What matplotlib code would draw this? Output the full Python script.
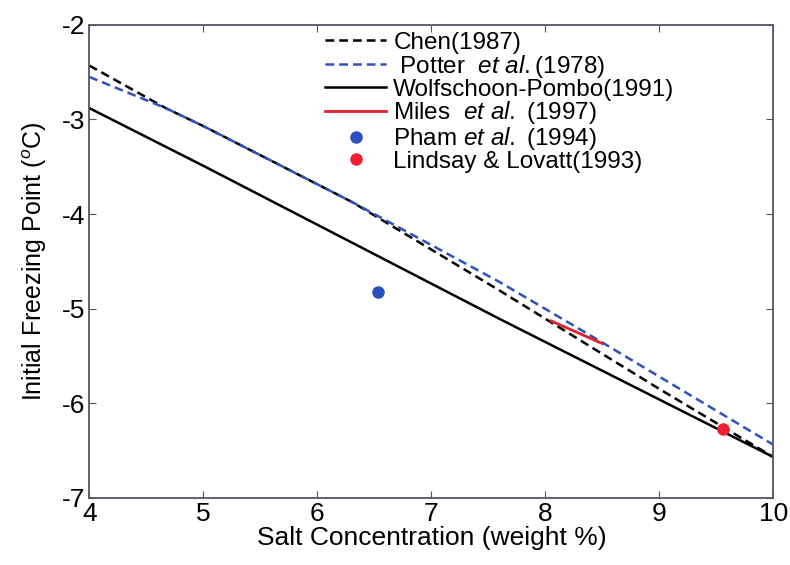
import numpy as np
import matplotlib.pyplot as plt

plt.rcParams["font.family"] = ["Liberation Sans", "DejaVu Sans"]
plt.rcParams["mathtext.fontset"] = "custom"
plt.rcParams["mathtext.rm"] = "Liberation Sans"
plt.rcParams["mathtext.it"] = "Liberation Sans:italic"
plt.rcParams["axes.unicode_minus"] = False

# values
chen_x = [4.0, 4.67, 5.0, 6.3, 7.6, 8.42, 9.0, 10.0]
chen_y = [-2.43, -2.88, -3.07, -3.87, -4.81, -5.42, -5.85, -6.57]
potter_x = [4.0, 4.67, 5.0, 6.3, 7.6, 8.46, 9.0, 10.0]
potter_y = [-2.55, -2.88, -3.07, -3.87, -4.72, -5.33, -5.72, -6.44]
wolf_x = [4.0, 5.0, 7.6, 10.0]
wolf_y = [-2.88, -3.49, -5.11, -6.57]
miles_x = [8.05, 8.5]
miles_y = [-5.13, -5.37]
pham_x, pham_y = [6.53], [-4.82]
lindsay_x, lindsay_y = [9.56], [-6.27]

fig = plt.figure(figsize=(7.9, 5.65), dpi=100)
ax = fig.add_axes([0.113, 0.119, 0.866, 0.837])

ax.plot(chen_x, chen_y, "--", color="black", lw=1.8, dashes=(3.5, 2),
        label="Chen(1987)")
ax.plot(potter_x, potter_y, "--", color="#3050c0", lw=1.8, dashes=(3.5, 2),
        label=r" Potter  $\it{et\ al.}$(1978)")
ax.plot(wolf_x, wolf_y, "-", color="black", lw=1.8,
        label="Wolfschoon-Pombo(1991)")
ax.plot(miles_x, miles_y, "-", color="#e0202a", lw=2.0,
        label=r"Miles  $\it{et\ al.}$ (1997)")
ax.plot(pham_x, pham_y, "o", color="#2a4fc0", ms=8, ls="none",
        label=r"Pham $\it{et\ al.}$ (1994)")
ax.plot(lindsay_x, lindsay_y, "o", color="#ee2030", ms=8, ls="none",
        label="Lindsay & Lovatt(1993)")

ax.set_xlim(4, 10)
ax.set_ylim(-7, -2)
ax.set_xticks(range(4, 11))
ax.set_yticks(range(-7, -1))
ax.tick_params(direction="in", top=True, right=True, labelsize=19,
               length=5, color="#555555", pad=3)
for s in ax.spines.values():
    s.set_color("#555566")
    s.set_linewidth(1.3)

ax.set_xlabel("Salt Concentration (weight %)", fontsize=19, labelpad=0)
ax.set_ylabel(r"Initial Freezing Point ($^{o}$C)", fontsize=18, labelpad=9)

ax.legend(loc="upper left", bbox_to_anchor=(0.345, 0.985), frameon=False,
          fontsize=17.5, labelspacing=-0.05, handlelength=2.5, handletextpad=0.3,
          borderaxespad=0.0, borderpad=0.0)

fig.savefig("out.png", dpi=100)
